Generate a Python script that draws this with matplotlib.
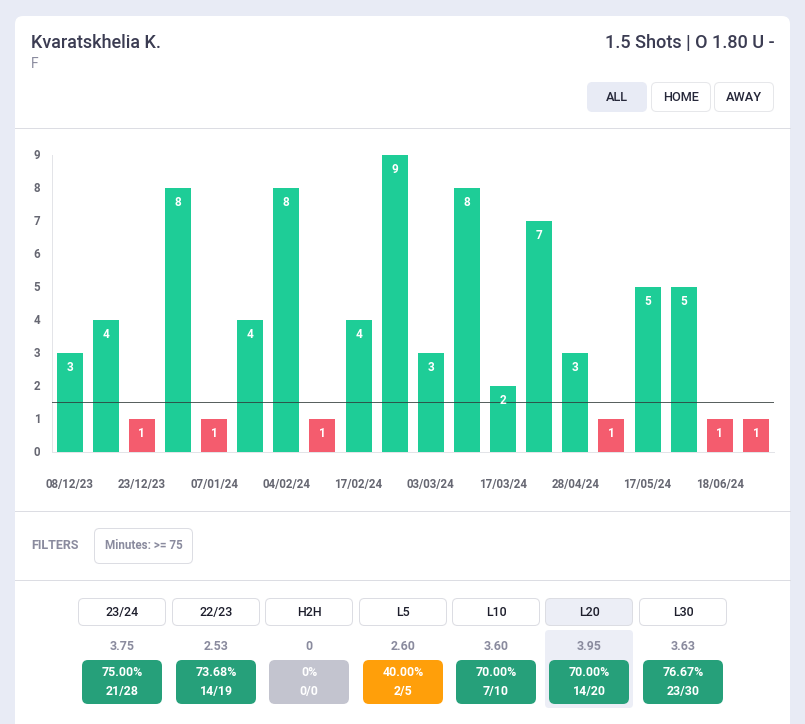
import matplotlib
matplotlib.use("Agg")
import matplotlib.pyplot as plt
from matplotlib.patches import FancyBboxPatch
from matplotlib.transforms import ScaledTranslation

plt.rcParams['font.family'] = ['Roboto', 'DejaVu Sans']

# ---- data ----
dates = ["08/12/23", "", "23/12/23", "", "07/01/24", "", "04/02/24", "", "17/02/24", "",
         "03/03/24", "", "17/03/24", "", "28/04/24", "", "17/05/24", "", "18/06/24", ""]
shots = [3, 4, 1, 8, 1, 4, 8, 1, 4, 9, 3, 8, 2, 7, 3, 1, 5, 5, 1, 1]
line_value = 1.5
y_ticks = list(range(10))
player = "Kvaratskhelia K."
position = "F"
market = "1.5 Shots | O 1.80 U -"
venue_labels = ["ALL", "HOME", "AWAY"]
filter_label = "Minutes: >= 75"
period_labels = ["23/24", "22/23", "H2H", "L5", "L10", "L20", "L30"]
period_avgs = ["3.75", "2.53", "0", "2.60", "3.60", "3.95", "3.63"]
period_pcts = ["75.00%", "73.68%", "0%", "40.00%", "70.00%", "70.00%", "76.67%"]
period_hits = ["21/28", "14/19", "0/0", "2/5", "7/10", "14/20", "23/30"]

# ---- colours ----
BG = "#e8ebf5"
GREEN = "#1ecd97"
RED = "#f45c6e"
BADGE_GREEN = "#26a07a"
BADGE_GREY = "#c3c4cf"
BADGE_ORANGE = "#ff9f0a"
BORDER = "#dcdde3"
DARK = "#3b3c52"
MUTED = "#8a8b9e"
THIN = 0.72

W, H = 805, 724
fig = plt.figure(figsize=(W / 100, H / 100), dpi=100, facecolor=BG)
ui = fig.add_axes([0, 0, 1, 1])
ui.set_xlim(0, W)
ui.set_ylim(H, 0)
ui.axis("off")


def box(x0, y0, x1, y1, fc="white", ec="none", r=5, lw=THIN, z=2):
    ui.add_patch(FancyBboxPatch((x0 + r, y0 + r), x1 - x0 - 2 * r, y1 - y0 - 2 * r,
                                boxstyle=f"round,pad={r},rounding_size={r}",
                                fc=fc, ec=ec, lw=lw, zorder=z))


def txt(x, y, s, size, color=DARK, ha="center", weight="normal"):
    ui.text(x, y, s, fontsize=size, color=color, ha=ha, va="center", weight=weight, zorder=5)


# card and dividers
box(15, 16, 790, 760, r=8, z=1)
for yy in (128, 511, 580):
    ui.plot([15, 790], [yy, yy], color="#dcdde3", lw=THIN, zorder=2)

# header
txt(31, 42.7, player, 13, ha="left", weight="medium")
txt(31, 63.5, position, 10, color=MUTED, ha="left")
txt(774, 42.7, market, 13, ha="right", weight="medium")
for i, (lab, x0) in enumerate(zip(venue_labels, (587, 651, 714))):
    box(x0 + 0.5, 82.5, x0 + 59.5, 111.5, fc=BG if i == 0 else "white", ec=BG if i == 0 else "#e6e7ea")
    txt(x0 + 30, 97.5, lab, 9.2, color="#26283a", weight="medium")

# filters
txt(31, 545.5, "FILTERS", 9, color=MUTED, ha="left", weight="bold")
box(94.5, 528.5, 192.5, 563.5, ec=BORDER)
txt(143.5, 545.5, filter_label, 8.4, color=MUTED, weight="bold")

# period table
box(545, 630, 633, 708, fc="#eceef6", r=4)
tab_lefts = [78, 172, 265, 359, 452, 545, 639]
for i, left in enumerate(tab_lefts):
    cx = left + 44
    active = period_labels[i] == "L20"
    box(left + 0.5, 598.5, left + 87.5, 625.5, fc="#eceef6" if active else "white", ec=BORDER)
    txt(cx, 612.5, period_labels[i], 8.9, color="#1d1e2c", weight="medium")
    txt(cx, 646.5, period_avgs[i], 8.9, color=MUTED, weight="bold")
    hit = int(period_hits[i].split("/")[0])
    total = int(period_hits[i].split("/")[1])
    fc = BADGE_GREY if total == 0 else (BADGE_ORANGE if hit / total < 0.5 else BADGE_GREEN)
    box(cx - 40, 660, cx + 40, 704, fc=fc, r=6, z=3)
    txt(cx, 673, period_pcts[i], 8.9, color="white", weight="bold")
    txt(cx, 691, period_hits[i], 8.9, color="white", weight="bold")

# chart
L, R, T, B = 51.5, 774, 155, 452
ax = fig.add_axes([L / W, 1 - B / H, (R - L) / W, (B - T) / H], facecolor="none")
ax.set_xlim(-0.5, len(shots) - 0.5)
ax.set_ylim(0, 9)
xs = list(range(len(shots)))
colors = [GREEN if v > line_value else RED for v in shots]
ax.bar(xs, shots, width=0.72, color=colors, zorder=2)
ax.axhline(line_value, color="#2f3a38", lw=THIN, alpha=0.8, zorder=3)
for x, v in zip(xs, shots):
    ax.annotate(str(v), (x, v), xytext=(0, -10.5), textcoords="offset points", ha="center", va="center",
                color="white", fontsize=8.5, fontweight="bold", zorder=4)
for s in ("top", "right"):
    ax.spines[s].set_visible(False)
for s in ("left", "bottom"):
    ax.spines[s].set_color("#e3e4e8")
    ax.spines[s].set_linewidth(THIN)
ax.set_yticks(y_ticks)
ax.set_xticks(xs)
ax.set_xticklabels(dates)
ax.tick_params(axis="both", length=0)
ax.tick_params(axis="y", pad=8, labelsize=8.3, labelcolor="#666772")
ax.tick_params(axis="x", pad=19, labelsize=8.3, labelcolor="#666772")
for lab in ax.get_xticklabels() + ax.get_yticklabels():
    lab.set_fontweight("bold")
nudge = ScaledTranslation(0, 1.2 / 100, fig.dpi_scale_trans)
for lab in ax.get_yticklabels():
    lab.set_transform(lab.get_transform() + nudge)

fig.savefig("out.png", dpi=100, facecolor=BG)
